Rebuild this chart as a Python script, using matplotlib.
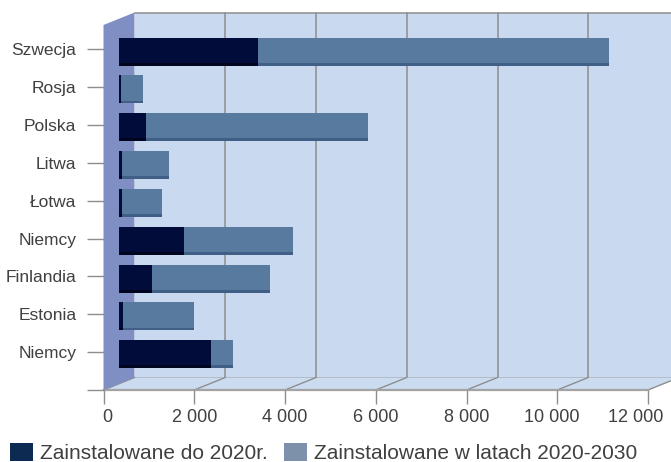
import matplotlib
matplotlib.use('Agg')
import matplotlib.pyplot as plt
from matplotlib.patches import Polygon, Patch
from matplotlib.lines import Line2D
from matplotlib.transforms import Affine2D, ScaledTranslation
import numpy as np

# ---------------- data ----------------
categories = ['Szwecja', 'Rosja', 'Polska', 'Litwa', 'Łotwa', 'Niemcy',
              'Finlandia', 'Estonia', 'Niemcy']
installed_2020 = [3070, 60, 600, 70, 70, 1440, 730, 90, 2030]
added_2020_2030 = [7740, 480, 4900, 1040, 890, 2410, 2610, 1570, 490]
x_ticks = [0, 2000, 4000, 6000, 8000, 10000, 12000]
x_tick_labels = ['0', '2 000', '4 000', '6 000', '8 000', '10 000', '12 000']
legend_labels = ['Zainstalowane do 2020r.', 'Zainstalowane w latach 2020-2030']

# ---------------- style ----------------
plt.rcParams['font.family'] = ['Liberation Sans', 'DejaVu Sans']
TXT = '#404040'
GRID = '#8e8e8e'
WALL = '#c9daf0'
FLOOR = '#cbdcf1'
SIDE = '#7f8fc4'
DARK = '#010c3a'
LIGHT = '#577a9e'
DARK_EDGE = '#00051f'
LIGHT_EDGE = '#3f5f86'

W, H = 671, 462
fig = plt.figure(figsize=(W / 100, H / 100), dpi=100)
ax_l, ax_r, ax_t, ax_b = 103.5, 648.0, 25.0, 390.0
ax = fig.add_axes([ax_l / W, (H - ax_b) / H, (ax_r - ax_l) / W, (ax_b - ax_t) / H])

n = len(categories)
y = np.arange(n)
row_px = 37.84
first_px = 49.3
ytop = (ax_t - first_px) / row_px
ybot = (ax_b - first_px) / row_px
xmax = x_ticks[-1]
ax.set_xlim(0, xmax)
ax.set_ylim(ybot, ytop)

px_x = (ax_r - ax_l) / xmax
DX, DY = 31.0, 12.5


def dep(xv, yv, d):
    return (xv + d * DX / px_x, yv - d * DY / row_px)


# back wall
far = xmax * 1.1
ax.add_patch(Polygon([dep(0, ytop, 1), dep(far, ytop, 1), dep(far, ybot, 1), dep(0, ybot, 1)],
                     closed=True, facecolor=WALL, edgecolor='none', clip_on=False, zorder=0))
for (a, b) in [(dep(0, ytop, 1), dep(far, ytop, 1)), (dep(0, ybot, 1), dep(far, ybot, 1))]:
    ax.add_line(Line2D([a[0], b[0]], [a[1], b[1]], color=GRID, lw=1.1, clip_on=False, zorder=0.5))
for xv in x_ticks[1:]:
    a, b = dep(xv, ytop, 1), dep(xv, ybot, 1)
    ax.add_line(Line2D([a[0], b[0]], [a[1], b[1]], color=GRID, lw=1.1, clip_on=False, zorder=0.5))

# floor
ax.add_patch(Polygon([dep(0, ybot, 0), dep(xmax, ybot, 0), dep(xmax, ybot, 1), dep(0, ybot, 1)],
                     closed=True, facecolor=FLOOR, edgecolor='none', clip_on=False, zorder=0.6))
for xv in x_ticks:
    a, b = dep(xv, ybot, 0), dep(xv, ybot, 1)
    ax.add_line(Line2D([a[0], b[0]], [a[1], b[1]], color=GRID, lw=1.0, clip_on=False, zorder=0.7))
ax.add_line(Line2D([0, xmax], [ybot, ybot], color='#a3a3a3', lw=1.6, clip_on=False, zorder=0.8))

# left side wall
ax.add_patch(Polygon([dep(0, ytop, 0), dep(0, ytop, 1), dep(0, ybot, 1), dep(0, ybot, 0)],
                     closed=True, facecolor=SIDE, edgecolor='none', clip_on=False, zorder=0.9))

# bars (drawn at mid-depth)
shift = ax.transData + Affine2D().translate(15.0, -2.3)
bh = 0.74
strip = 0.075
inst = np.array(installed_2020)
add = np.array(added_2020_2030)
groups = [
    ax.barh(y, inst, height=bh, color=DARK, zorder=3),
    ax.barh(y, add, left=inst, height=bh, color=LIGHT, zorder=3),
    ax.barh(y + bh / 2 - strip / 2, inst, height=strip, color=DARK_EDGE, zorder=3.1),
    ax.barh(y + bh / 2 - strip / 2, add, left=inst, height=strip, color=LIGHT_EDGE, zorder=3.1),
]
for g in groups:
    for p in g.patches:
        p.set_transform(shift)
        p.set_clip_on(False)

# axes & ticks
for s in ax.spines.values():
    s.set_visible(False)
ax.patch.set_visible(False)
ax.set_yticks(y)
ax.set_yticklabels(categories)
ax.set_yticks([ybot], minor=True)
ax.tick_params(axis='y', which='both', length=12, width=1.0, color=GRID, pad=7.5,
               labelsize=12.5, labelcolor=TXT)
ax.set_xticks(x_ticks)
ax.set_xticklabels(x_tick_labels)
ax.tick_params(axis='x', length=10, width=1.0, color=GRID, pad=4,
               labelsize=13, labelcolor=TXT)
# the outer tick labels are nudged, as in the original layout
nudges = {0: 4, 5: -5, 6: -12}
for i, lab in enumerate(ax.get_xticklabels()):
    if i in nudges:
        lab.set_transform(lab.get_transform() + ScaledTranslation(nudges[i] / 100, 0, fig.dpi_scale_trans))

# legend
handles = [Patch(facecolor='#0c2a52', edgecolor='none'), Patch(facecolor='#7d91ab', edgecolor='none')]
fig.legend(handles, legend_labels, loc='lower left', bbox_to_anchor=(10 / W, -1 / H), ncol=2,
           frameon=False, fontsize=15, labelcolor=TXT, handlelength=1.1, handleheight=0.95,
           handletextpad=0.34, columnspacing=0.77, borderpad=0, borderaxespad=0)

fig.savefig('out.png', dpi=100)
